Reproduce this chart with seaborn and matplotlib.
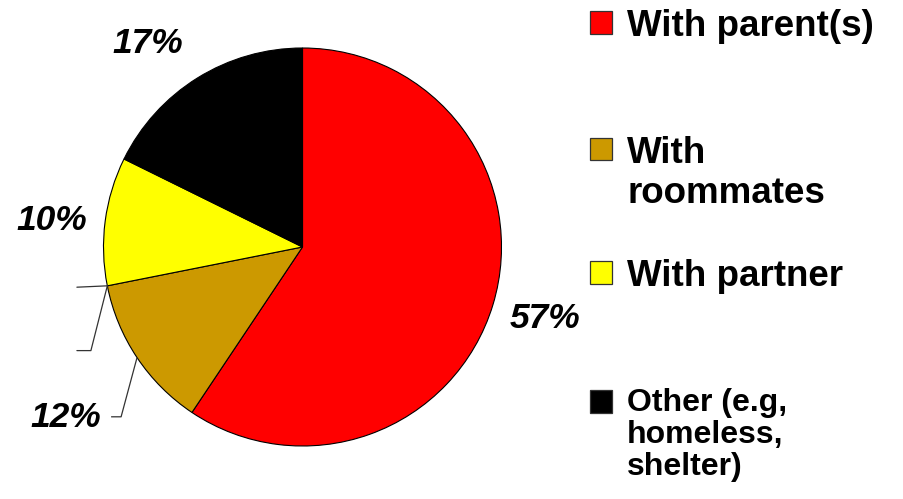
import matplotlib
matplotlib.use("Agg")
import matplotlib.pyplot as plt
import seaborn as sns
import numpy as np
from matplotlib.patches import Rectangle

# ---- data ----
categories = ["With parent(s)", "With\nroommates", "With partner", "Other (e.g,\nhomeless,\nshelter)"]
values = [57, 12, 10, 17]
pct_labels = ["57%", "12%", "10%", "17%"]
colors = ["#FF0000", "#CC9900", "#FFFF00", "#000000"]

sns.set_theme(style="white")
plt.rcParams['font.family'] = ['Liberation Sans', 'DejaVu Sans']

W, H = 904, 499
fig = plt.figure(figsize=(W / 100, H / 100), dpi=100)
fig.patch.set_facecolor("white")

ax = fig.add_axes([62.5 / W, 12 / H, 480 / W, 480 / H])
wedges, _ = ax.pie(values, colors=colors, startangle=90, counterclock=False,
                   radius=0.995,
                   wedgeprops=dict(edgecolor="black", linewidth=0.8))
ax.set_xlim(-1.2, 1.2)
ax.set_ylim(-1.2, 1.2)
ax.axis("off")

# percentage labels
label_dist = [1.265, 1.46, 1.26, 1.28]
label_shift = [0.5, 2.0, 1.4, 5.4]  # degrees
for w, lab, d, s in zip(wedges, pct_labels, label_dist, label_shift):
    mid = np.deg2rad((w.theta1 + w.theta2) / 2 + s)
    ax.text(d * np.cos(mid), d * np.sin(mid), lab, ha="center", va="center",
            fontsize=25.5, fontweight="bold", fontstyle="italic", color="black")

# leader line for the 12% label
w = wedges[1]
mid = np.deg2rad((w.theta1 + w.theta2) / 2)
r = w.r
p0 = (r * np.cos(mid), r * np.sin(mid))
elbow = (-0.907, -0.849)
ax.plot([p0[0], elbow[0], elbow[0] - 0.05], [p0[1], elbow[1], elbow[1]],
        color="#333333", lw=0.9, solid_capstyle="butt")

# orphan leader lines at the roommates / partner boundary
b = np.deg2rad(w.theta1)
pb = (r * np.cos(b), r * np.sin(b))
ax.plot([pb[0], -1.128], [pb[1], -0.201], color="#333333", lw=0.9)
ax.plot([pb[0], -1.058, -1.128], [pb[1], -0.518, -0.518], color="#333333", lw=0.9)

# legend (manual)
tops = [11, 138, 261, 390]
sizes = [26.5, 26.5, 26.5, 23]
spacings = [1.2, 1.2, 1.2, 1.08]
for cat, col, top, fs, ls in zip(categories, colors, tops, sizes, spacings):
    fig.add_artist(Rectangle((590 / W, 1 - (top + 22.5) / H), 22.5 / W, 22.5 / H,
                             transform=fig.transFigure, facecolor=col,
                             edgecolor="#333333", lw=0.9))
    fig.text(627 / W, 1 - (top - 2) / H, cat, ha="left", va="top",
             fontsize=fs, fontweight="bold", color="black", linespacing=ls)

fig.savefig("out.png", dpi=100, facecolor="white")
